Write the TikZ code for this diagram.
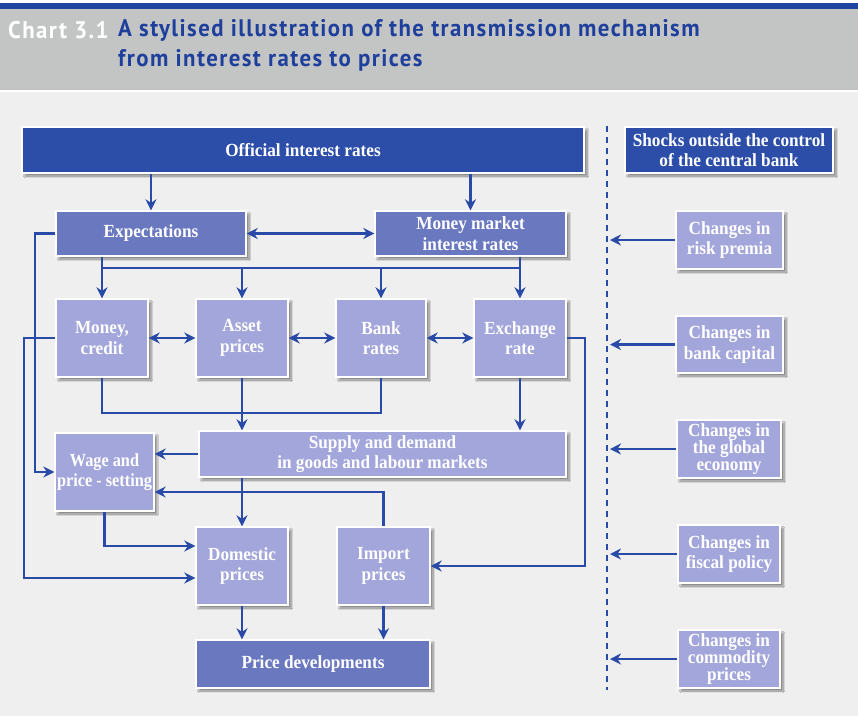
\documentclass[tikz,border=0pt]{standalone}
\usepackage{fontspec}
\usetikzlibrary{arrows.meta,shadows.blur}
\newfontfamily\boxfont[FakeStretch=0.93]{Liberation Serif}
\newfontfamily\narrowfont[FakeStretch=0.88]{Liberation Serif}
\newfontfamily\titlefont[FakeStretch=0.95,LetterSpace=6]{PT Sans}
\definecolor{darkbox}{HTML}{2C4EA8}
\definecolor{midbox}{HTML}{6A78C0}
\definecolor{lightbox}{HTML}{A2A6DA}
\definecolor{arrowblue}{HTML}{2A4AA8}
\definecolor{headgray}{HTML}{C3C5C5}
\definecolor{headblue}{HTML}{1D45A0}
\definecolor{titleblue}{HTML}{1E3F9C}
\definecolor{paper}{HTML}{EFEFEF}
\begin{document}
\begin{tikzpicture}[x=1pt,y=-1pt,
	box/.style = { draw=white, line width=1.4pt, text=white, align=center, inner sep=2pt,
		font=\boxfont\bfseries\fontsize{18.5}{20.5}\selectfont,
		blur shadow={shadow xshift=3pt, shadow yshift=-3pt, shadow opacity=45, shadow blur steps=8} },
	dark/.style = { box, fill=darkbox },
	mid/.style = { box, fill=midbox },
	light/.style = { box, fill=lightbox },
	size/.style 2 args = { minimum width=#1pt, minimum height=#2pt },
	wire/.style = { draw=arrowblue, line width=2.4pt },
	arr/.style = { wire, -{Stealth[length=11pt,width=11pt]} },
	dbl/.style = { wire, {Stealth[length=11pt,width=11pt]}-{Stealth[length=11pt,width=11pt]} },
	headline/.style = { anchor=west, inner sep=0pt, font=\titlefont\bfseries\fontsize{24}{28}\selectfont }
]
	\useasboundingbox (0,0) rectangle (858,716);
	% header and background
	\fill[paper] (0,92) rectangle (858,716);
	\fill[headblue] (0,3) rectangle (858,9);
	\fill[headgray] (0,9) rectangle (858,90);
	\node[headline, text=white] (chart) at (8,30) {Chart 3.1};
	\node[headline, text=titleblue] (title1) at (118,30) {A stylised illustration of the transmission mechanism};
	\node[headline, text=titleblue] (title2) at (118,60) {from interest rates to prices};

	% transmission boxes
	\node[dark, size={562}{46}] (off) at (303,150) {Official interest rates};
	\node[mid, size={190}{45}] (exp) at (151,233.5) {Expectations};
	\node[mid, size={191}{45}] (mm) at (470.5,233.5) {Money market\\interest rates};
	\node[light, size={92}{78}] (mon) at (102,338) {Money,\\credit};
	\node[light, size={92}{78}] (ast) at (242,338) {Asset\\prices};
	\node[light, size={90}{78}] (bank) at (381,338) {Bank\\rates};
	\node[light, size={92}{78}] (exc) at (520,338) {Exchange\\rate};
	\node[light, size={367}{46}] (sd) at (382.5,454) {Supply and demand\\in goods and labour markets};
	\node[light, size={97}{78}, font=\narrowfont\bfseries\fontsize{18.5}{20.5}\selectfont] (wage) at (104.5,472) {Wage and\\price - setting};
	\node[light, size={92}{78}] (dom) at (242,566) {Domestic\\prices};
	\node[light, size={93}{78}] (imp) at (383.5,566) {Import\\prices};
	\node[mid, size={234}{48}] (pd) at (313,664) {Price developments};

	% shocks
	\node[dark, size={208}{46}] (shock) at (729,150) {Shocks outside the control\\of the central bank};
	\node[light, size={107}{58}] (risk) at (729.5,240) {Changes in\\risk premia};
	\node[light, size={107}{57}] (capital) at (729.5,344.5) {Changes in\\bank capital};
	\node[light, size={104}{58}, font=\boxfont\bfseries\fontsize{18.5}{17}\selectfont] (global) at (729,449) {Changes in\\the global\\economy};
	\node[light, size={102}{58}] (fiscal) at (729,554) {Changes in\\fiscal policy};
	\node[light, size={102}{58}, font=\boxfont\bfseries\fontsize{18.5}{17}\selectfont] (commodity) at (729,659) {Changes in\\commodity\\prices};

	\coordinate (bus) at (0,268);
	\coordinate (join) at (0,413);
	\coordinate (laneA) at (35,0);
	\coordinate (laneB) at (24,0);
	\coordinate (laneC) at (585,0);
	\coordinate (border) at (610,0);

	% connectors
	\draw[arr] (off.south -| exp.north) -- (exp.north);
	\draw[arr] (off.south -| mm.north) -- (mm.north);
	\draw[dbl] (exp.east) -- (mm.west);
	\draw[arr] (exp.south -| mon.north) -- (mon.north);
	\draw[arr] (mm.south -| exc.north) -- (exc.north);
	\draw[wire] (mon.north |- bus) -- (exc.north |- bus);
	\draw[arr] (ast.north |- bus) -- (ast.north);
	\draw[arr] (bank.north |- bus) -- (bank.north);
	\draw[dbl] (mon.east) -- (ast.west);
	\draw[dbl] (ast.east) -- (bank.west);
	\draw[dbl] (bank.east) -- (exc.west);
	\draw[wire] (mon.south) -- (mon.south |- join) -- (bank.south |- join) -- (bank.south);
	\draw[arr] (ast.south) -- (ast.south |- sd.north);
	\draw[arr] (exc.south) -- (exc.south |- sd.north);
	\draw[arr] (sd.west) -- (sd.west -| wage.east);
	\draw[arr] (exp.west) -- (exp.west -| laneA) |- (wage.west);
	\draw[arr] (mon.west) -- (mon.west -| laneB) |- ([yshift=-12pt]dom.west);
	\draw[arr] (wage.south) |- ([yshift=20pt]dom.west);
	\draw[arr] (sd.south -| dom.north) -- (dom.north);
	\draw[arr] (imp.north) |- ([yshift=-20pt]wage.east);
	\draw[arr] (exc.east) -- (exc.east -| laneC) |- (imp.east);
	\draw[arr] (dom.south) -- (dom.south |- pd.north);
	\draw[arr] (imp.south) -- (imp.south |- pd.north);

	% dividing line and shocks
	\draw[wire, dash pattern=on 6pt off 5pt] (607,126) -- (607,690);
	\draw[arr] (risk.west) -- (risk.west -| border);
	\draw[arr] (capital.west) -- (capital.west -| border);
	\draw[arr] (global.west) -- (global.west -| border);
	\draw[arr] (fiscal.west) -- (fiscal.west -| border);
	\draw[arr] (commodity.west) -- (commodity.west -| border);
\end{tikzpicture}
\end{document}
